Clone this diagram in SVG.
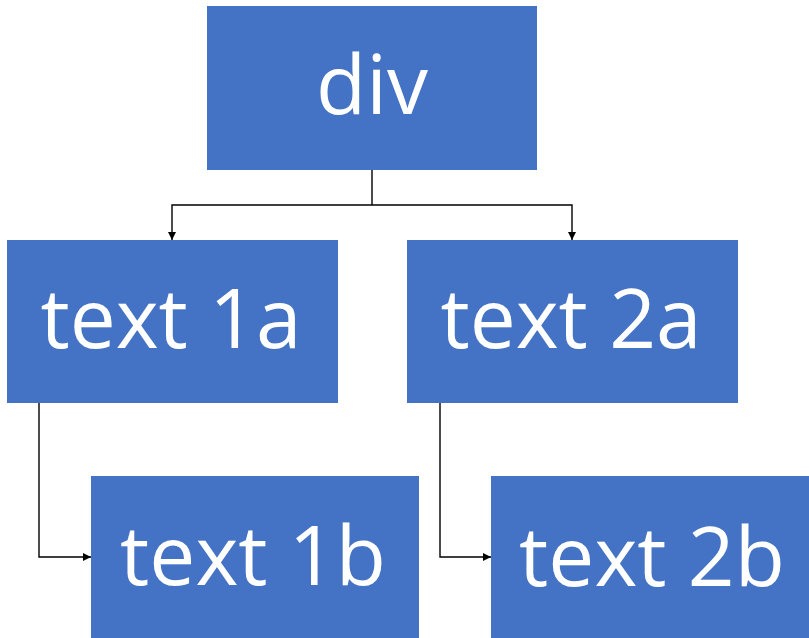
<svg xmlns="http://www.w3.org/2000/svg" width="809" height="638" viewBox="0 0 809 638">
  <style>
    .box { fill: #4472C4; }
    .label { fill: #ffffff; font-family: "Open Sans", "Noto Sans", "Liberation Sans", sans-serif; font-size: 82px; text-anchor: middle; }
    .wire { fill: none; stroke: #000000; stroke-width: 1.4; }
  </style>
  <defs>
    <marker id="arrow" viewBox="0 0 10 10" refX="10" refY="5" markerWidth="8" markerHeight="8" markerUnits="userSpaceOnUse" orient="auto">
      <path d="M0,0 L10,5 L0,10 Z" fill="#000000"/>
    </marker>
  </defs>
  <rect width="809" height="638" fill="#ffffff"/>

  <g id="connectors">
    <path class="wire" d="M372,170 V205"/>
    <path class="wire" d="M372,205 H172 V240" marker-end="url(#arrow)"/>
    <path class="wire" d="M372,205 H572 V240" marker-end="url(#arrow)"/>
    <path class="wire" d="M39,403 V557 H91" marker-end="url(#arrow)"/>
    <path class="wire" d="M440,403 V557 H491" marker-end="url(#arrow)"/>
  </g>

  <g id="node-div">
    <rect class="box" x="207" y="6" width="330" height="164"/>
    <text class="label" x="372" y="114">div</text>
  </g>
  <g id="node-text-1a">
    <rect class="box" x="7" y="240" width="331" height="163"/>
    <text class="label" x="171" y="348">text 1a</text>
  </g>
  <g id="node-text-2a">
    <rect class="box" x="407" y="240" width="331" height="163"/>
    <text class="label" x="571" y="348">text 2a</text>
  </g>
  <g id="node-text-1b">
    <rect class="box" x="91" y="476" width="328" height="162"/>
    <text class="label" x="253" y="585">text 1b</text>
  </g>
  <g id="node-text-2b">
    <rect class="box" x="491" y="476" width="330" height="162"/>
    <text class="label" x="652" y="586">text 2b</text>
  </g>
</svg>
